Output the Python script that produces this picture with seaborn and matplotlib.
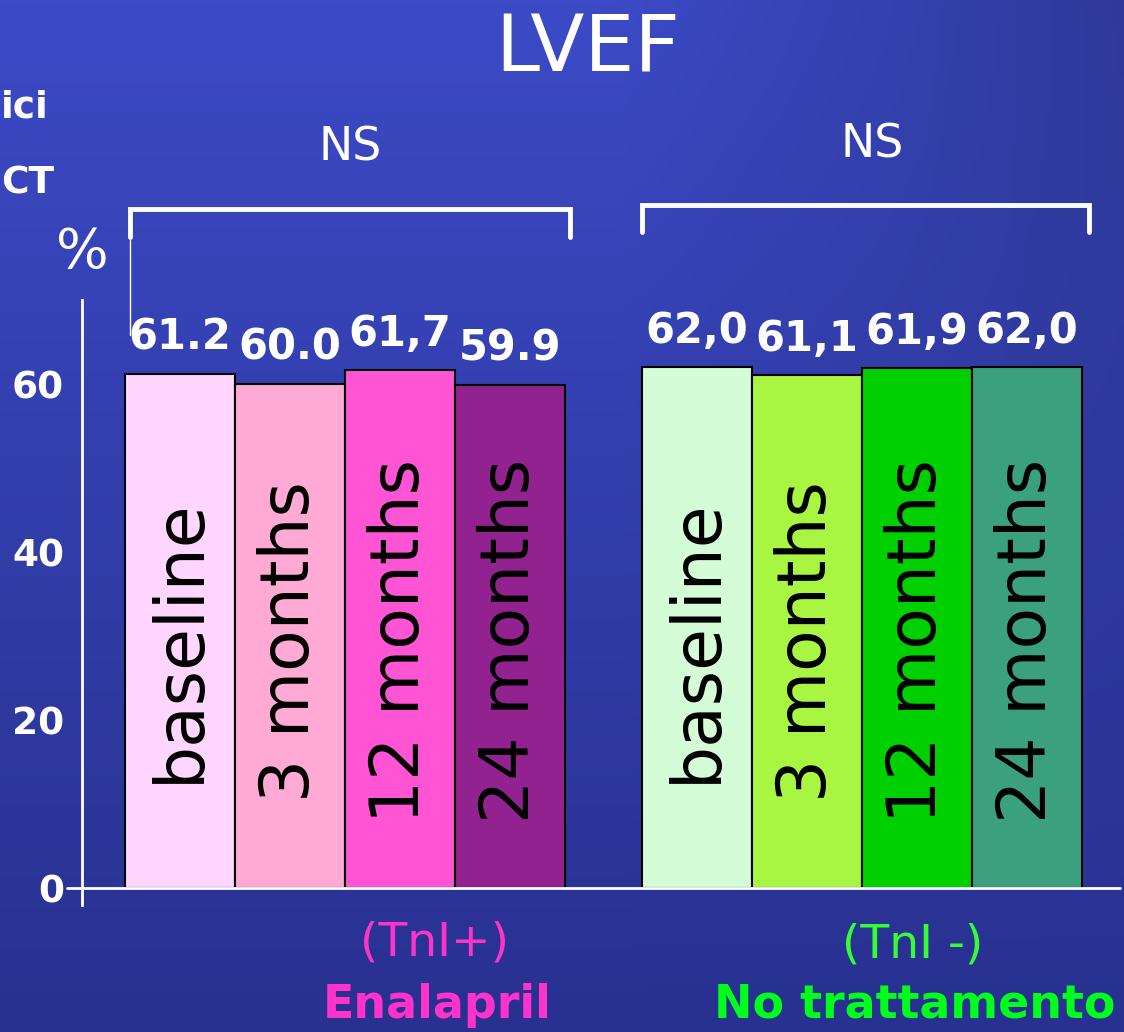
import numpy as np
import matplotlib
matplotlib.use("Agg")
import matplotlib.pyplot as plt
import seaborn as sns

# ---- data -------------------------------------------------------------
timepoints = ["baseline", "3 months", "12 months", "24 months",
              "baseline", "3 months", "12 months", "24 months"]
bar_ids = ["E-base", "E-3", "E-12", "E-24", "N-base", "N-3", "N-12", "N-24"]
lvef = [61.2, 60.0, 61.7, 59.9, 62.0, 61.1, 61.9, 62.0]
value_labels = ["61.2", "60.0", "61,7", "59.9", "62,0", "61,1", "61,9", "62,0"]
yticks = [0, 20, 40, 60]
group_stats = ["NS", "NS"]
group_tags = ["(TnI+)", "(TnI -)"]
group_names = ["Enalapril", "No trattamento"]

bar_colors = ["#FFD6FF", "#FFAAD4", "#FF55D5", "#922290",
              "#D4FCD6", "#A8F542", "#00D000", "#3AA07D"]

sns.set_theme(style="white")
plt.rcParams["font.family"] = ["DejaVu Sans"]

W, H = 1124, 1032
fig = plt.figure(figsize=(W / 100, H / 100), dpi=100)

# ---- background gradient ---------------------------------------------
bg = fig.add_axes([0, 0, 1, 1], zorder=-10)
yy, xx = np.mgrid[0:1:200j, 0:1:200j]
top = np.array([60, 74, 198]) / 255
bottom = np.array([40, 49, 143]) / 255
img = top[None, None, :] * (1 - yy[..., None]) + bottom[None, None, :] * yy[..., None]
dark = 1 - 0.22 * np.clip((xx - 0.55) / 0.45, 0, 1) * (1 - yy) ** 1.5
img = img * dark[..., None]
bg.imshow(img, extent=[0, 1, 0, 1], aspect="auto", origin="upper")
bg.set_axis_off()

# ---- main axes --------------------------------------------------------
x_left, x_right, y_top, y_bot = 82, 1120, 300, 905
ax = fig.add_axes([x_left / W, (H - y_bot) / H, (x_right - x_left) / W, (y_bot - y_top) / H])
ax.patch.set_alpha(0)

pos = np.r_[np.arange(4), np.arange(4) + 4.7]

sns.barplot(x=pos, y=lvef, hue=bar_ids, palette=bar_colors, native_scale=True,
            width=1, dodge=False, saturation=1, edgecolor="black", linewidth=1.5,
            legend=False, ax=ax, zorder=2)

ax.set_xlim(-0.89, 8.55)
ax.set_ylim(-2, 70)

# spines / ticks
for s in ["top", "right", "bottom"]:
    ax.spines[s].set_visible(False)
ax.spines["left"].set_color("white")
ax.spines["left"].set_linewidth(2)
ax.set_xticks([])
ax.set_yticks(yticks)
ax.set_yticklabels([str(t) for t in yticks], fontsize=27, fontweight="bold", color="white")
ax.tick_params(axis="y", direction="inout", length=10, width=2, color="white", pad=8)
ax.set_xlabel("")
ax.set_ylabel("")
ax.grid(False)

# baseline at zero
ax.axhline(0, xmin=-15 / (x_right - x_left), xmax=1, color="white", lw=2,
           clip_on=False, zorder=3)

# labels inside bars and values above them
for p, t, v, lbl in zip(pos, timepoints, lvef, value_labels):
    ax.text(p, 29.4, t, rotation=90, ha="center", va="center", fontsize=49,
            color="black", zorder=4)
    ax.text(p, v + 4.3, lbl, ha="center", va="center", fontsize=30,
            fontweight="bold", color="white", zorder=4)

# significance brackets
ax.plot([-0.45, -0.45, 3.55, 3.55], [77.5, 80.8, 80.8, 77.5], color="white",
        lw=3.5, clip_on=False, solid_joinstyle="miter", zorder=4)
ax.plot([4.2, 4.2, 8.27, 8.27], [78.1, 81.3, 81.3, 78.1], color="white",
        lw=3.5, clip_on=False, solid_joinstyle="miter", zorder=4)
ax.plot([-0.455, -0.455], [77.1, 65.8], color="white", lw=1, clip_on=False, zorder=4)
ax.text(1.55, 88.1, group_stats[0], ha="center", va="center", fontsize=33, color="white")
ax.text(6.3, 88.45, group_stats[1], ha="center", va="center", fontsize=33, color="white")
ax.text(-0.89, 75.6, "%", ha="center", va="center", fontsize=40, color="white")

# titles and captions
fig.text(588 / W, 1 - 50 / H, "LVEF", ha="center", va="center", fontsize=57, color="white")
fig.text(1 / W, 1 - 108 / H, "ici", ha="left", va="center", fontsize=27,
         fontweight="bold", color="white")
fig.text(1 / W, 1 - 183 / H, "CT", ha="left", va="center", fontsize=27,
         fontweight="bold", color="white")
fig.text(435 / W, 1 - 943 / H, group_tags[0], ha="center", va="center", fontsize=34,
         color="#FF33CC")
fig.text(913 / W, 1 - 945 / H, group_tags[1], ha="center", va="center", fontsize=34,
         color="#33FF33")
fig.text(437 / W, 1 - 1005 / H, group_names[0], ha="center", va="center", fontsize=33,
         fontweight="bold", color="#FF33CC")
fig.text(915 / W, 1 - 1005 / H, group_names[1], ha="center", va="center", fontsize=33,
         fontweight="bold", color="#00FF1A")

fig.savefig("out.png", dpi=100)
